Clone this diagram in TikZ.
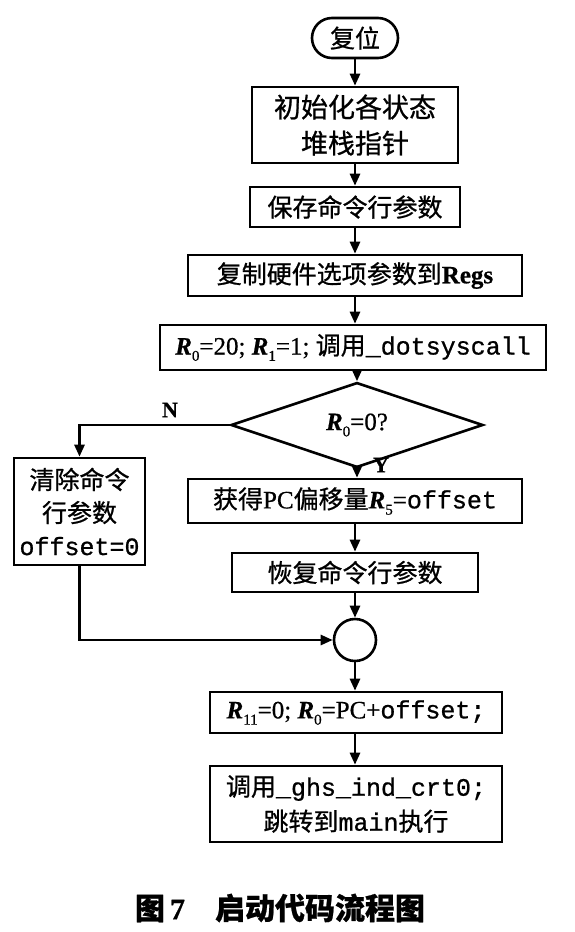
\documentclass[tikz,border=0pt]{standalone}
\usepackage{fontspec}
\setmainfont{Liberation Serif}[FakeBold=0.6]
\newfontfamily\cjk[FakeBold=0.8]{Noto Sans CJK SC}
\newfontfamily\mono[FakeBold=0.8]{Liberation Mono}
\usetikzlibrary{shapes.geometric,arrows.meta}
\newcommand\Rsub[1]{{\bfseries\itshape R}\raisebox{-0.25em}{\fontsize{15}{15}\selectfont #1}}
\tikzset{
  box/.style={draw, line width=2.6pt, inner sep=0pt, align=center,
    font=\fontsize{25}{34}\selectfont},
  arr/.style={line width=2.6pt, -{Triangle[length=12pt,width=10pt]}},
  lab/.style={font=\fontsize{22}{22}\selectfont\bfseries, inner sep=0pt}
}
\begin{document}
\begin{tikzpicture}[x=1pt,y=-1pt]
\useasboundingbox[fill=white] (0,0) rectangle (575,932);
\node[box, rounded corners=20pt, minimum width=86pt, minimum height=40pt] (t) at (355,38) {\cjk 复位};
\node[box, minimum width=206pt, minimum height=76pt, font=\fontsize{27}{36}\selectfont] (b1) at (355,125) {\cjk 初始化各状态\\\cjk 堆栈指针};
\node[box, minimum width=210pt, minimum height=40pt] (b2) at (355,207) {\cjk 保存命令行参数};
\node[box, minimum width=334pt, minimum height=41pt] (b3) at (355,275.5) {{\cjk 复制硬件选项参数到}{\bfseries Regs}};
\node[box, minimum width=386pt, minimum height=45pt] (b4) at (353,347.5) {\Rsub{0}=20; \Rsub{1}=1; {\cjk 调用}{\mono\_dotsyscall}};
\node[draw, diamond, line width=2.6pt, inner sep=0pt, minimum width=252pt, minimum height=50pt, font=\fontsize{25}{30}\selectfont] (d) at (357,425) {\Rsub{0}=0?};
\node[box, minimum width=334pt, minimum height=44pt] (g) at (355,501) {{\cjk 获得}PC{\cjk 偏移量}\Rsub{5}={\mono offset}};
\node[box, minimum width=246pt, minimum height=39pt] (h) at (355,572.5) {\cjk 恢复命令行参数};
\node[draw, circle, line width=2.6pt, minimum size=42pt, inner sep=0pt] (c) at (355,640) {};
\node[box, minimum width=292pt, minimum height=41pt] (r) at (356,712.5) {\Rsub{11}=0; \Rsub{0}=PC+{\mono offset;}};
\node[box, minimum width=292pt, minimum height=76pt, font=\fontsize{25}{35}\selectfont] (f) at (356,804) {{\cjk 调用}{\mono\_ghs\_ind\_crt0;}\\{\cjk 跳转到}{\mono main}{\cjk 执行}};
\node[box, minimum width=131pt, minimum height=107pt, font=\fontsize{25}{33}\selectfont] (lb) at (79.5,511.5) {{\cjk 清除命令}\\{\cjk 行参数}\\{\mono offset=0}};
\node[lab] (nl) at (170,410) {N};
\node[lab] (yl) at (381,465) {Y};
\node[font=\fontsize{30}{30}\selectfont\bfseries, inner sep=0pt] (cap) at (280,908) {{\cjk 图}\,7\quad{\cjk 启动代码流程图}};
\draw[arr] (t.south) -- (b1.north -| t.south);
\draw[arr] (b1.south) -- (b2.north -| b1.south);
\draw[arr] (b2.south) -- (b3.north -| b2.south);
\draw[arr] (b3.south) -- (b4.north -| b3.south);
\draw[arr] (b4.south -| d.north) -- (d.north);
\draw[arr] (d.south) -- (g.north -| d.south);
\draw[arr] (g.south) -- (h.north -| g.south);
\draw[arr] (h.south) -- (c.north);
\draw[arr] (c.south) -- (r.north -| c.south);
\draw[arr] (r.south -| c.south) -- (f.north -| c.south);
\draw[arr] (d.west) -| (lb.north);
\draw[arr] (lb.south) |- (c.west);
\end{tikzpicture}
\end{document}
